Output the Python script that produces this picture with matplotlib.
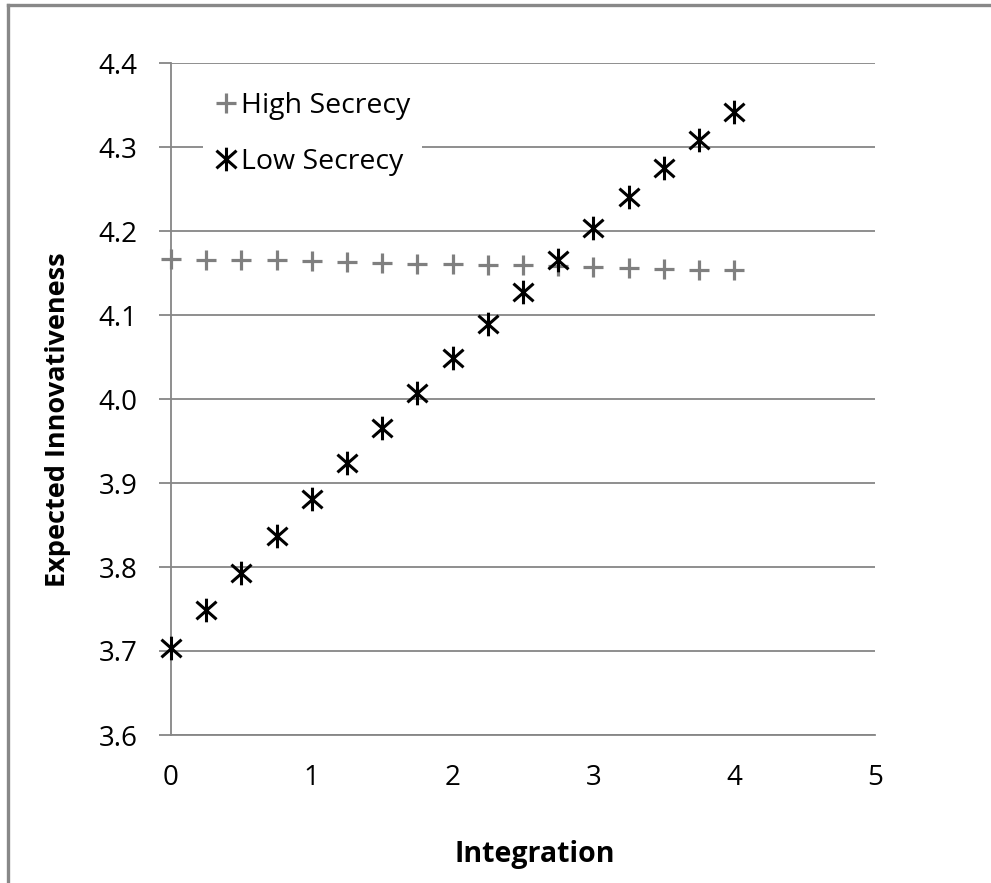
import matplotlib
matplotlib.use('Agg')
import matplotlib.pyplot as plt
from matplotlib.path import Path
from matplotlib.lines import Line2D

plt.rcParams['font.family'] = ['Open Sans', 'DejaVu Sans']

# data
integration = [0, 0.25, 0.5, 0.75, 1, 1.25, 1.5, 1.75, 2, 2.25, 2.5, 2.75, 3, 3.25, 3.5, 3.75, 4]
high_secrecy = [4.167, 4.166, 4.166, 4.165, 4.164, 4.163, 4.162, 4.161, 4.161, 4.160,
                4.159, 4.158, 4.157, 4.156, 4.155, 4.154, 4.153]
low_secrecy = [3.704, 3.749, 3.793, 3.837, 3.881, 3.924, 3.966, 4.007, 4.049, 4.089,
               4.127, 4.165, 4.204, 4.240, 4.275, 4.308, 4.342]
yticks = [3.6, 3.7, 3.8, 3.9, 4.0, 4.1, 4.2, 4.3, 4.4]
xticks = [0, 1, 2, 3, 4, 5]

grey = '#868686'

# asterisk: vertical bar plus an X
star = Path([(0, -1), (0, 1), (-0.85, -0.75), (0.85, 0.75), (-0.85, 0.75), (0.85, -0.75)],
            [Path.MOVETO, Path.LINETO, Path.MOVETO, Path.LINETO, Path.MOVETO, Path.LINETO])

fig = plt.figure(figsize=(9.91, 8.83), dpi=100)
ax = fig.add_axes([171/991, 1 - 735/883, 704/991, 672/883])

ax.plot(integration, high_secrecy, linestyle='none', marker='+', markersize=15,
        markeredgewidth=2.3, color='#7f7f7f', label='High Secrecy', zorder=3, clip_on=False)
ax.plot(integration, low_secrecy, linestyle='none', marker=star, markersize=17,
        markeredgewidth=2.2, color='black', label='Low Secrecy', zorder=4, clip_on=False)

ax.set_xlim(0, 5)
ax.set_ylim(3.6, 4.4)
ax.set_xticks(xticks)
ax.set_yticks(yticks)
ax.set_yticklabels(['%.1f' % v for v in yticks])
ax.yaxis.grid(True, color=grey, linewidth=1.3)
ax.set_axisbelow(True)
for s in ['top', 'right']:
    ax.spines[s].set_visible(False)
for s in ['left', 'bottom']:
    ax.spines[s].set_color(grey)
    ax.spines[s].set_linewidth(1.3)
ax.tick_params(axis='y', length=9, width=1.3, color=grey, pad=15, labelsize=20)
ax.tick_params(axis='x', length=0, pad=21, labelsize=20)

ax.set_xlabel('Integration', fontsize=20.5, fontweight='bold')
ax.xaxis.set_label_coords(0.517, -0.156)
ax.set_ylabel('Expected Innovativeness', fontsize=19.5, fontweight='bold', va='center')
ax.yaxis.set_label_coords(-0.161, 0.469)

leg = ax.legend(loc='upper left', bbox_to_anchor=(0.025, 0.995), fontsize=20.5, frameon=True,
                facecolor='white', edgecolor='none', framealpha=1, fancybox=False,
                handlelength=0.8, handletextpad=0.15, labelspacing=1.0, borderpad=0.4)

# page frame
fig.add_artist(Line2D([8/991, 8/991], [0, 1 - 5/883], color='#888888', linewidth=2.4))
fig.add_artist(Line2D([8/991, 1], [1 - 5/883, 1 - 5/883], color='#888888', linewidth=2.4))

fig.savefig('out.png', dpi=100)
